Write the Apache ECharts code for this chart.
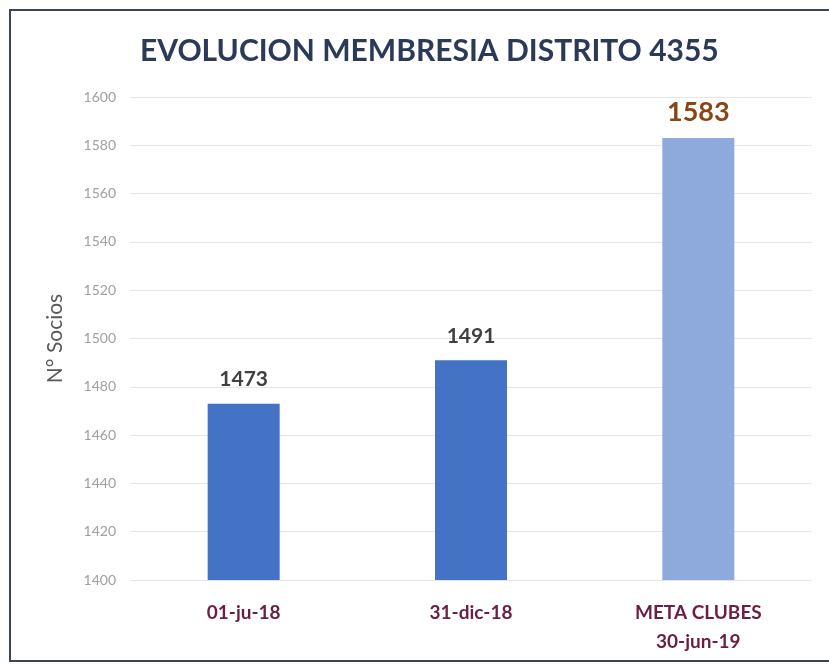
<!DOCTYPE html>
<html>
<head>
<meta charset="utf-8">
<script src="https://cdn.jsdelivr.net/npm/echarts@6/dist/echarts.min.js"></script>
<style>html,body{margin:0;padding:0;background:#fff}#c{width:829px;height:664px}</style>
</head>
<body>
<div id="c"></div>
<script>
const categories = ['01-ju-18', '31-dic-18', 'META CLUBES\n30-jun-19'];
const values = [1473, 1491, 1583];
const yTicks = { min: 1400, max: 1600, interval: 20 };
const titleText = 'EVOLUCION MEMBRESIA DISTRITO 4355';
const yName = 'N° Socios';

const FONT = 'Lato, "Open Sans", sans-serif';
const chart = echarts.init(document.getElementById('c'));
chart.setOption({
  animation: false,
  backgroundColor: '#ffffff',
  title: {
    text: titleText, left: 135, top: 31,
    textStyle: { fontFamily: FONT, fontWeight: 'bold', fontSize: 30, color: '#2b3a58' }
  },
  graphic: [{
    type: 'rect', shape: { x: 10, y: 10, width: 840, height: 651 },
    style: { fill: 'none', stroke: '#3b4654', lineWidth: 2 }, silent: true, z: 100
  }],
  grid: { left: 130, right: 17, top: 97, bottom: 84 },
  xAxis: {
    type: 'category', data: categories,
    axisLine: { show: false }, axisTick: { show: false },
    axisLabel: { fontFamily: FONT, fontWeight: 'bold', fontSize: 19, color: '#6a1e44', margin: 18, lineHeight: 29 }
  },
  yAxis: {
    type: 'value', min: yTicks.min, max: yTicks.max, interval: yTicks.interval,
    name: yName, nameLocation: 'middle', nameGap: 64, nameRotate: 90,
    nameTextStyle: { fontFamily: FONT, fontSize: 21, color: '#595959' },
    axisLine: { show: false }, axisTick: { show: false },
    axisLabel: { fontFamily: FONT, fontSize: 14, color: '#a0a0a0', margin: 14, formatter: v => String(v) },
    splitLine: { lineStyle: { color: '#e6e6e6', width: 1 } }
  },
  series: [{
    type: 'bar', barWidth: 72,
    data: values.map((v, i) => ({
      value: v,
      itemStyle: { color: i === 2 ? '#8eaadc' : '#4472c4' },
      label: i === 2
        ? { fontSize: 27, color: '#8a4514', distance: 12 }
        : { fontSize: 21, color: '#404040', distance: 14 }
    })),
    label: { show: true, position: 'top', fontFamily: FONT, fontWeight: 'bold' }
  }]
});
</script>
</body>
</html>
